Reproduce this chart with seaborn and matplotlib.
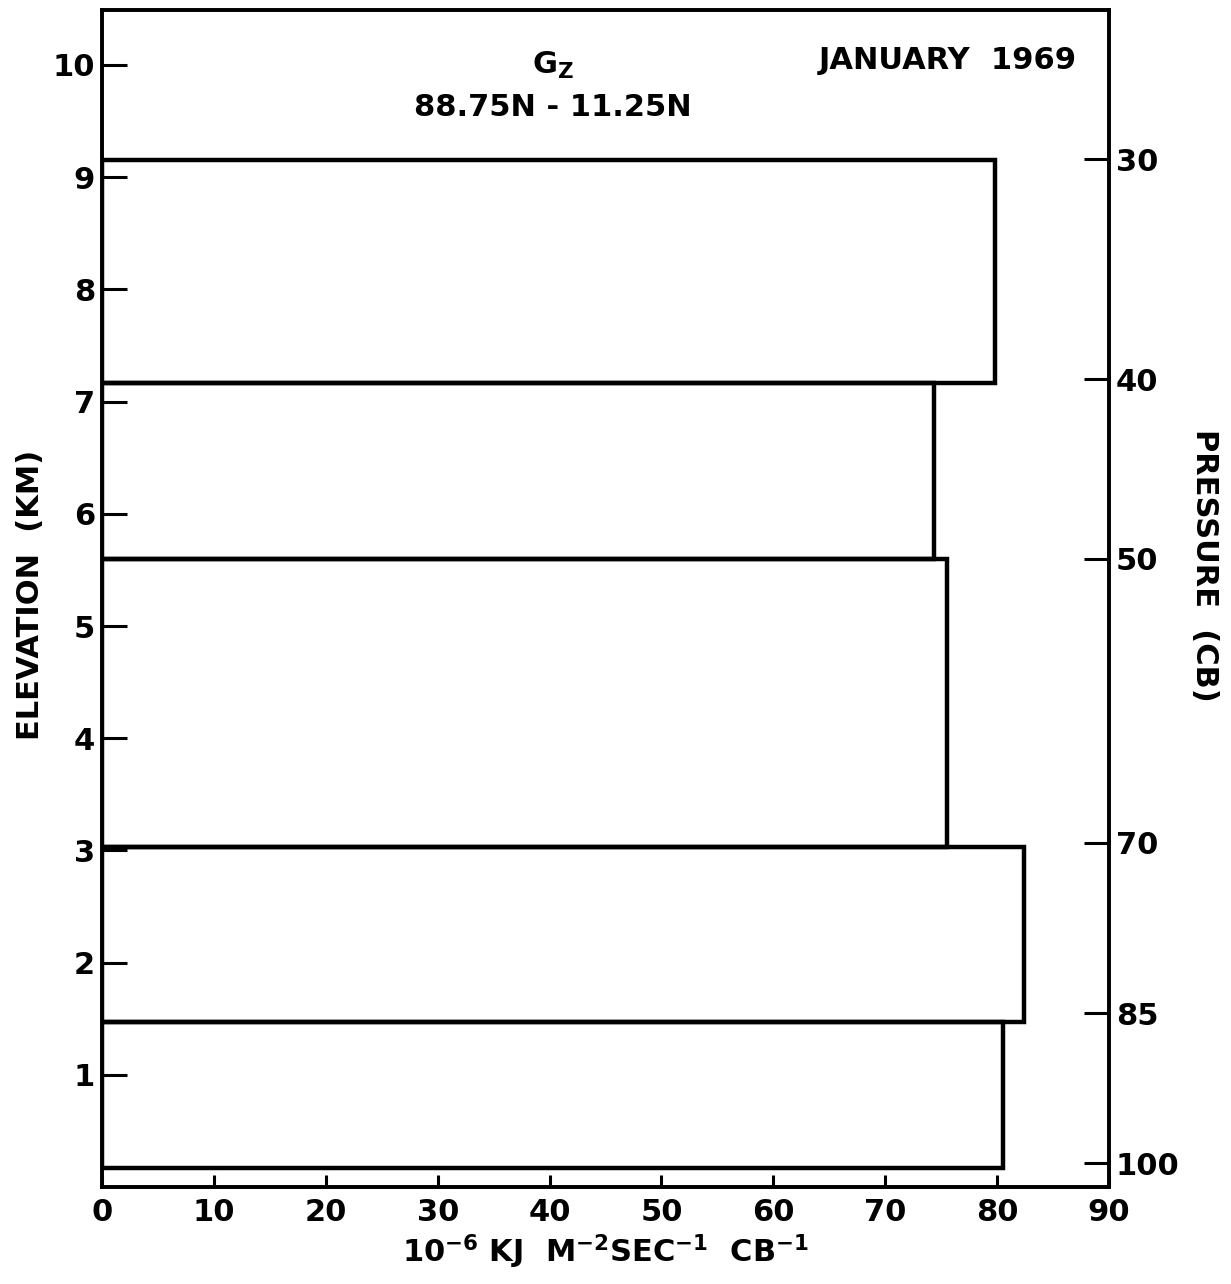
import numpy as np
import pandas as pd
import matplotlib
matplotlib.use("Agg")
import matplotlib.pyplot as plt
import seaborn as sns

# ---- data ----
layer_edges_km = [0.17, 1.47, 3.03, 5.60, 7.17, 9.15]      # elevation boundaries of layers
gz_values = [80.5, 82.4, 75.5, 74.4, 79.8]                  # G_z per layer (bottom -> top)
pressure_levels = [30, 40, 50, 70, 85, 100]                 # right axis labels (cb)
pressure_heights_km = [9.16, 7.20, 5.60, 3.07, 1.55, 0.21]  # their elevations
x_ticks = list(range(0, 100, 10))
y_ticks = list(range(1, 11))

mids = [(a + b) / 2 for a, b in zip(layer_edges_km[:-1], layer_edges_km[1:])]
df = pd.DataFrame({"elev": mids, "gz": gz_values})

sns.set_style("ticks")
plt.rcParams["font.family"] = ["DejaVu Sans"]
plt.rcParams["font.weight"] = "bold"
plt.rcParams["text.color"] = "black"
plt.rcParams["axes.labelcolor"] = "black"
plt.rcParams["axes.edgecolor"] = "black"
plt.rcParams["xtick.color"] = "black"
plt.rcParams["ytick.color"] = "black"

fig = plt.figure(figsize=(12.31, 12.84), dpi=100)
ax = fig.add_axes([0.0829, 0.0755, 0.818, 0.9167])

sns.histplot(data=df, y="elev", weights="gz", bins=layer_edges_km,
             fill=False, color="black", linewidth=3.2, ax=ax)

ax.set_xlim(0, 90)
ax.set_ylim(0, 10.49)
ax.set_xticks(x_ticks)
ax.set_yticks(y_ticks)
ax.set_xticklabels([str(v) for v in x_ticks])
ax.set_yticklabels([str(v) for v in y_ticks])
ax.tick_params(axis="y", direction="in", length=18, width=2.2, labelsize=22, pad=5, colors="black")
ax.tick_params(axis="x", direction="in", length=9, width=2.2, labelsize=22, pad=8, colors="black")
for s in ax.spines.values():
    s.set_linewidth(2.6)
    s.set_color("black")
    s.set_visible(True)

ax.set_xlabel(r"10$^{\mathbf{-6}}$ KJ  M$^{\mathbf{-2}}$SEC$^{\mathbf{-1}}$  CB$^{\mathbf{-1}}$",
              fontsize=22, fontweight="bold", labelpad=4, color="black")
ax.set_ylabel("ELEVATION  (KM)", fontsize=22, fontweight="bold", color="black")
ax.yaxis.set_label_coords(-0.071, 0.503)
ax.yaxis.label.set_rotation_mode("anchor")
ax.yaxis.label.set_horizontalalignment("center")
ax.yaxis.label.set_verticalalignment("center")

ax2 = ax.twinx()
ax2.set_ylim(ax.get_ylim())
ax2.set_yticks(pressure_heights_km)
ax2.set_yticklabels([str(p) for p in pressure_levels])
ax2.tick_params(axis="y", direction="in", length=18, width=2.2, labelsize=22, pad=5, colors="black")
ax2.set_ylabel("PRESSURE  (CB)", fontsize=22, fontweight="bold", rotation=270, color="black")
ax2.yaxis.set_label_coords(1.095, 0.528)
ax2.yaxis.label.set_rotation_mode("anchor")
ax2.yaxis.label.set_horizontalalignment("center")
ax2.yaxis.label.set_verticalalignment("center")
for s in ax2.spines.values():
    s.set_linewidth(2.6)
    s.set_color("black")

ax.text(40.3, 10.0, r"G$_{\mathbf{Z}}$", ha="center", va="center", fontsize=22, fontweight="bold")
ax.text(40.3, 9.62, "88.75N - 11.25N", ha="center", va="center", fontsize=22, fontweight="bold")
ax.text(75.6, 10.04, "JANUARY  1969", ha="center", va="center", fontsize=22, fontweight="bold")

fig.savefig("out.png", dpi=100, facecolor="white")
